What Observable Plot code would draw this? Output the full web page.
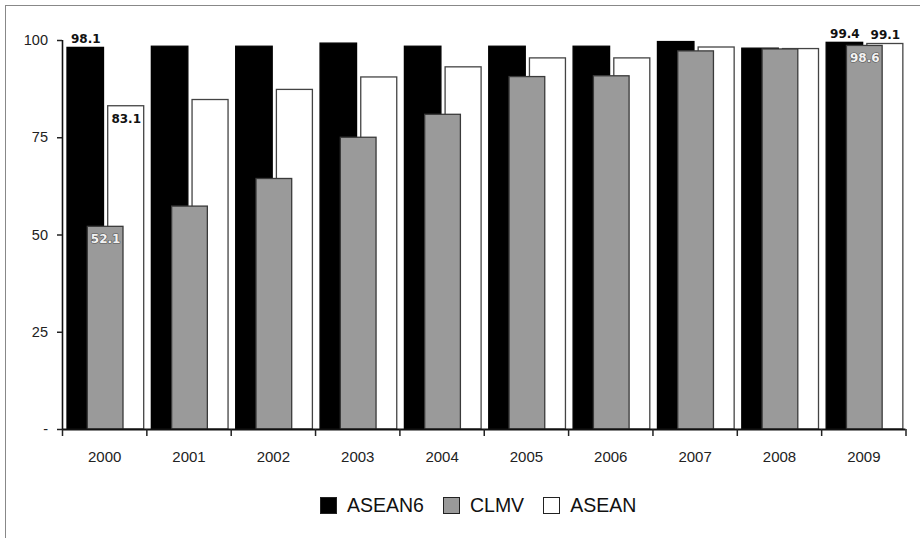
<!DOCTYPE html>
<html><head><meta charset="utf-8">
<script src="https://cdn.jsdelivr.net/npm/d3@7"></script>
<script src="https://cdn.jsdelivr.net/npm/@observablehq/plot@0.6"></script>
<style>
html,body{margin:0;padding:0;background:#fff;overflow:hidden;}
#wrap{position:relative;width:920px;height:538px;overflow:hidden;}
#frame{position:absolute;left:5px;top:5px;width:940px;height:560px;border:1.5px solid #888;box-sizing:border-box;pointer-events:none}
#chart{position:absolute;left:0;top:0}
#legend{position:absolute;top:496px;left:320px;display:flex;align-items:center;font-family:"Liberation Sans",Arial,sans-serif;font-size:19.5px;color:#111;line-height:1}
.sw{width:17px;height:17px;border:1.5px solid #222;box-sizing:border-box;margin-right:10px}
.item{display:flex;align-items:center;margin-right:19px}
</style>
</head><body>
<div id="wrap"><div id="chart"></div><div id="legend"></div><div id="frame"></div></div>
<script>
const years = ["2000","2001","2002","2003","2004","2005","2006","2007","2008","2009"];
const asean6 = [98.1, 98.4, 98.4, 99.2, 98.4, 98.4, 98.4, 99.6, 97.9, 99.4];
const clmv   = [52.1, 57.3, 64.4, 75.0, 80.9, 90.6, 90.8, 97.2, 97.7, 98.6];
const asean  = [83.1, 84.7, 87.3, 90.5, 93.1, 95.4, 95.4, 98.2, 97.8, 99.1];
const seriesNames = ["ASEAN6", "CLMV", "ASEAN"];
const yTicks = [0, 25, 50, 75, 100];
const labelYears = ["2000", "2009"];

const W = 920, H = 480, ML = 62, MR = 14.5, MT = 40, MB = 51;
const bw = (W - ML - MR) / years.length;
// pixel geometry of each series bar inside its year band
const geom = {ASEAN6: [5, 41.5], CLMV: [25.3, 61], ASEAN: [45.7, 81.7]};
const fills = {ASEAN6: "#000", CLMV: "#9a9a9a", ASEAN: "#fff"};
const strokes = {ASEAN6: "#000", CLMV: "#3a3a3a", ASEAN: "#444"};
const vals = {ASEAN6: asean6, CLMV: clmv, ASEAN: asean};
const rows = name => years.map((y, i) => ({year: y, value: vals[name][i]}));

function bar(name) {
  const [a, b] = geom[name];
  return Plot.barY(rows(name), {x: "year", y: "value", fill: fills[name], stroke: strokes[name], strokeWidth: 1.3, insetLeft: a, insetRight: bw - b});
}
function label(name, years_, where) {
  const [a, b] = geom[name];
  const inside = where === "inside";
  const light = name === "CLMV";
  return Plot.text(rows(name).filter(d => years_.includes(d.year)), {
    x: "year", y: "value", text: d => d.value.toFixed(1),
    dx: (a + b) / 2 - bw / 2, dy: inside ? 12.5 : -9,
    fontFamily: "DejaVu Sans", fontWeight: "bold", fontSize: 12,
    fill: light ? "#f2f2f2" : "#111",
    stroke: light ? "#555" : null, strokeWidth: light ? 1.2 : null
  });
}

const chart = Plot.plot({
  width: W, height: H, marginLeft: ML, marginRight: MR, marginTop: MT, marginBottom: MB,
  x: {domain: years, padding: 0, round: false, axis: null},
  y: {domain: [0, 100], axis: null},
  style: {fontFamily: "'Liberation Sans', Arial, sans-serif", fontSize: "14.5px", color: "#222", background: "transparent", overflow: "visible"},
  marks: [
    bar("ASEAN"),
    bar("ASEAN6"),
    bar("CLMV"),
    Plot.ruleY([0], {stroke: "#111", strokeWidth: 2}),
    Plot.ruleX([years[0]], {x: d => d, dx: -bw / 2, y1: 0, y2: 100, stroke: "#111", strokeWidth: 1.6}),
    Plot.axisY({ticks: yTicks, tickSize: 5, tickPadding: 9.5, strokeWidth: 1.5, tickFormat: d => d === 0 ? "-" : String(d), label: null, fontSize: 14.5}),
    Plot.axisX({tickSize: 7, strokeWidth: 1.5, tickFormat: () => "", dx: -bw / 2, label: null}),
    Plot.axisX({ticks: [years[years.length - 1]], tickSize: 7, strokeWidth: 1.5, tickFormat: () => "", dx: bw / 2, label: null}),
    Plot.axisX({tickSize: 0, tickPadding: 22, label: null, fontSize: 15}),
    label("ASEAN6", labelYears, "above"),
    label("ASEAN", ["2000"], "inside"),
    label("ASEAN", ["2009"], "above"),
    label("CLMV", labelYears, "inside")
  ]
});
document.getElementById("chart").appendChild(chart);

const legend = document.getElementById("legend");
for (const name of seriesNames) {
  const item = document.createElement("div");
  item.className = "item";
  const sw = document.createElement("div");
  sw.className = "sw";
  sw.style.background = fills[name];
  item.appendChild(sw);
  const t = document.createElement("span");
  t.textContent = name;
  item.appendChild(t);
  legend.appendChild(item);
}
</script>
</body></html>
